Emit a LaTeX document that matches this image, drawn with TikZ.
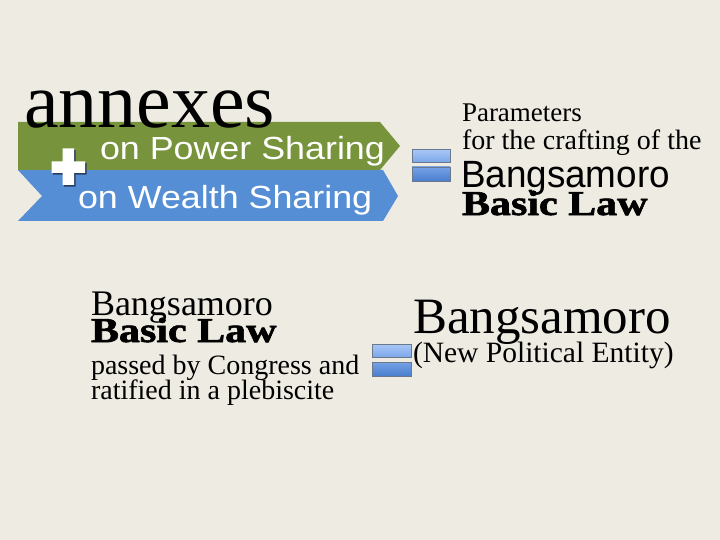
\documentclass[tikz,border=0pt]{standalone}
\usepackage{fontspec}
\usepackage{graphicx}
\setmainfont{Liberation Serif}
\newfontfamily\arialf{Liberation Sans}
\newfontfamily\heavyserif[FakeBold=1.6]{Liberation Serif Bold}
\definecolor{bgc}{RGB}{238,235,226}
\definecolor{grnc}{RGB}{119,147,60}
\definecolor{bluc}{RGB}{85,142,213}
\definecolor{plshadow}{RGB}{40,62,95}
\definecolor{eqborder}{RGB}{105,120,140}
\definecolor{eqA}{RGB}{170,199,246}
\definecolor{eqB}{RGB}{122,166,232}
\definecolor{eqC}{RGB}{118,162,230}
\definecolor{eqD}{RGB}{72,124,204}
\begin{document}
\begin{tikzpicture}[x=1pt,y=-1pt,
  txt/.style={inner sep=0pt, outer sep=0pt, anchor=base west, text=black},
  wtxt/.style={txt, text=white, font=\arialf\fontsize{32}{34}\selectfont},
  eqtop/.style={top color=eqA, bottom color=eqB, draw=eqborder, line width=0.9pt},
  eqbot/.style={top color=eqC, bottom color=eqD, draw=eqborder, line width=0.9pt},
  boldlaw/.style={txt, font=\heavyserif\fontsize{35}{36}\selectfont}]
\useasboundingbox (0,0) rectangle (720,540);
\fill[bgc] (0,0) rectangle (720,540);

% banners
\fill[bluc] (18,170) -- (383,170) -- (398,196) -- (383,221) -- (18,221) -- (42,196) -- cycle;
\fill[grnc] (18,122) -- (380,122) -- (400,146) -- (380,170) -- (18,170) -- cycle;

% plus sign
\begin{scope}[shift={(1.6,1.6)}]
  \fill[plshadow] (51.5,161.5) rectangle (85,173) (62.5,148.5) rectangle (74,185);
\end{scope}
\fill[white] (51.5,161.5) rectangle (85,173) (62.5,148.5) rectangle (74,185);

% texts in the banners
\node[txt, font=\fontsize{78}{80}\selectfont] (annex) at (24,128) {annexes};
\node[wtxt] (power) at (100,160) {\scalebox{1.12}[1]{on Power Sharing}};
\node[wtxt] (wealth) at (78,209) {\scalebox{1.12}[1]{on Wealth Sharing}};

% equals signs
\shade[eqtop] (412,149.5) rectangle (450,162.5);
\shade[eqbot] (412,167) rectangle (450,181.5);
\shade[eqtop] (372,344) rectangle (411,357.5);
\shade[eqbot] (372,362) rectangle (411,376.5);

% top right text
\node[txt, font=\fontsize{27}{28}\selectfont] (param) at (462,122) {Parameters};
\node[txt, font=\fontsize{28}{29}\selectfont] (craft) at (462,150) {for the crafting of the};
\node[txt, font=\arialf\fontsize{38}{39}\selectfont] (bangA) at (461,188) {\scalebox{0.97}[1]{Bangsamoro}};
\node[boldlaw] (lawA) at (462,215) {\scalebox{1.2}[1]{Basic Law}};

% lower left text
\node[txt, font=\fontsize{36}{37}\selectfont] (bangB) at (91,315) {Bangsamoro};
\node[boldlaw] (lawB) at (91,342) {\scalebox{1.2}[1]{Basic Law}};
\node[txt, font=\fontsize{28}{29}\selectfont] (passed) at (91,374) {passed by Congress and};
\node[txt, font=\fontsize{28}{29}\selectfont] (ratif) at (91,399) {ratified in a plebiscite};

% lower right text
\node[txt, font=\fontsize{51}{52}\selectfont] (bangC) at (413,333) {Bangsamoro};
\node[txt, font=\fontsize{29.5}{30}\selectfont] (entity) at (413,362) {(New Political Entity)};
\end{tikzpicture}
\end{document}
